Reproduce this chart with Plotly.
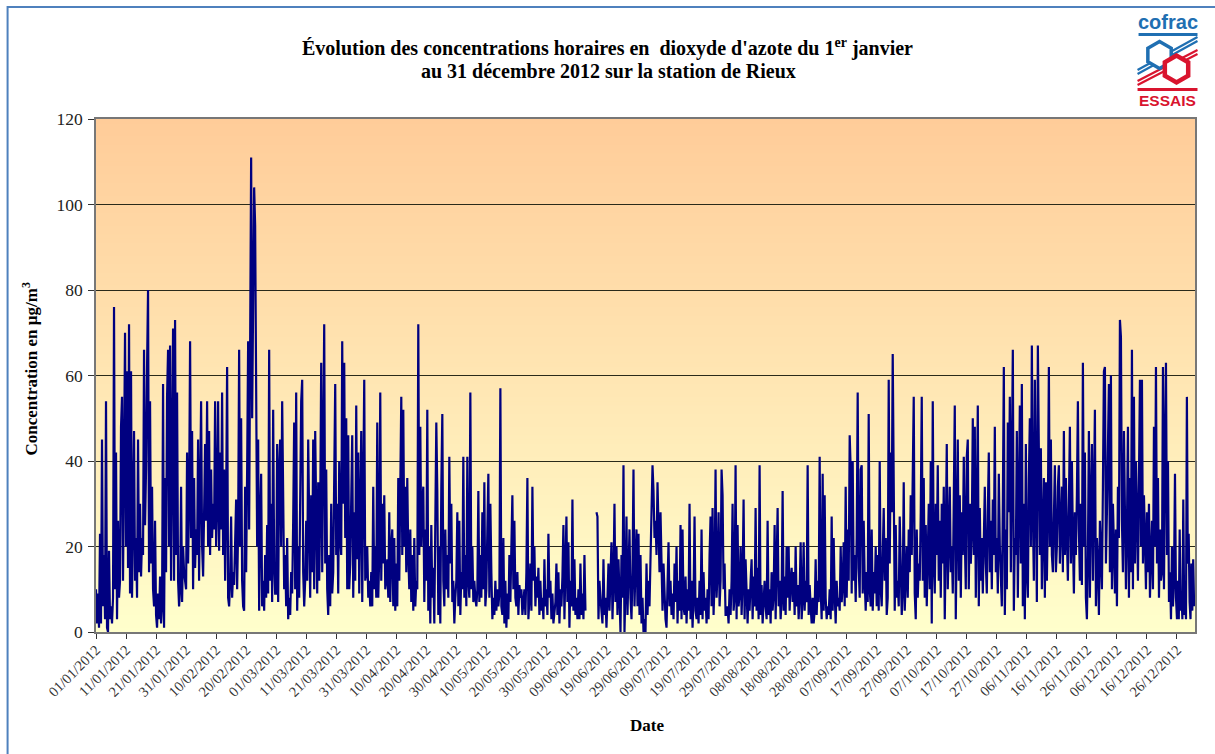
"""Hourly NO2 concentrations at the Rieux station, 2012."""

import math

import pandas as pd
import plotly.graph_objects as go

# Tick dates, every 10 days from 1 January 2012
TICK_DATES = [
    "2012-01-01", "2012-01-11", "2012-01-21", "2012-01-31", "2012-02-10", "2012-02-20",
    "2012-03-01", "2012-03-11", "2012-03-21", "2012-03-31", "2012-04-10", "2012-04-20",
    "2012-04-30", "2012-05-10", "2012-05-20", "2012-05-30", "2012-06-09", "2012-06-19",
    "2012-06-29", "2012-07-09", "2012-07-19", "2012-07-29", "2012-08-08", "2012-08-18",
    "2012-08-28", "2012-09-07", "2012-09-17", "2012-09-27", "2012-10-07", "2012-10-17",
    "2012-10-27", "2012-11-06", "2012-11-16", "2012-11-26", "2012-12-06", "2012-12-16",
    "2012-12-26",
]
AXIS_END = "2013-01-01"
Y_TICKS = [0, 20, 40, 60, 80, 100, 120]

# Values, one list per tick interval
d01 = [10, 2, 9, 1, 23, 2, 45, 6, 18, 3, 54, 1, 0, 19, 3, 6, 2, 8, 76, 10, 42, 3, 26, 8, 12, 48, 55, 12, 40, 70]
d02 = [20, 61, 15, 72, 9, 61, 8, 30, 47, 12, 22, 8, 45, 14, 30, 13, 22, 18, 66, 25, 38, 62, 80, 14, 54, 16, 34, 10, 6, 26]
d03 = [4, 1, 9, 3, 13, 2, 6, 58, 1, 36, 14, 55, 66, 20, 67, 12, 40, 71, 12, 73, 18, 56, 12, 6, 10, 34, 7, 20, 14, 11]
d04 = [10, 42, 16, 30, 68, 22, 47, 10, 36, 15, 24, 18, 45, 12, 30, 54, 20, 13, 28, 44, 26, 54, 20, 47, 18, 38, 22, 30, 24, 54]
d05 = [20, 30, 54, 19, 42, 24, 56, 18, 38, 12, 30, 62, 8, 6, 12, 27, 8, 14, 11, 22, 31, 10, 24, 66, 20, 50, 12, 6, 5, 34]
d06 = [14, 38, 68, 24, 60, 111, 50, 77, 104, 95, 50, 20, 45, 5, 26, 37, 6, 12, 5, 18, 8, 25, 9, 66, 12, 30, 7, 52, 16, 9]
d07 = [9, 44, 7, 38, 45, 20, 54, 26, 10, 18, 6, 22, 3, 8, 4, 14, 9, 26, 49, 10, 56, 5, 20, 8, 40, 54, 59, 14, 6, 12]
d08 = [26, 12, 45, 18, 8, 32, 14, 45, 10, 47, 20, 9, 35, 12, 28, 63, 14, 42, 72, 16, 38, 10, 4, 18, 6, 30, 9, 14, 47, 58]
d09 = [18, 30, 9, 40, 22, 18, 68, 30, 63, 22, 50, 10, 46, 10, 16, 30, 46, 8, 28, 12, 53, 17, 42, 9, 25, 47, 7, 32, 59, 12]
d10 = [14, 20, 8, 12, 6, 14, 6, 34, 10, 20, 8, 49, 8, 18, 56, 12, 30, 16, 32, 10, 12, 17, 8, 28, 7, 20, 24, 6, 22, 5]
d11 = [16, 6, 36, 12, 30, 55, 18, 52, 20, 34, 14, 36, 18, 10, 24, 7, 18, 5, 22, 6, 12, 10, 72, 18, 48, 20, 30, 34, 7, 24]
d12 = [12, 52, 5, 20, 2, 25, 8, 15, 2, 30, 49, 33, 4, 20, 2, 34, 51, 12, 6, 24, 10, 18, 8, 41, 16, 30, 7, 12, 2, 8]
d13 = [12, 28, 6, 26, 4, 14, 10, 41, 8, 18, 6, 41, 12, 8, 56, 10, 20, 7, 12, 8, 6, 10, 33, 7, 18, 8, 28, 10, 35, 6]
d14 = [10, 24, 37, 8, 30, 14, 3, 8, 4, 12, 5, 10, 6, 9, 57, 6, 4, 22, 2, 12, 1, 9, 3, 18, 7, 20, 32, 10, 26, 8]
d15 = [6, 14, 4, 11, 8, 10, 4, 7, 10, 4, 14, 36, 3, 8, 16, 5, 34, 12, 20, 6, 13, 8, 15, 4, 12, 5, 8, 3, 17, 6]
d16 = [10, 4, 23, 8, 12, 3, 9, 2, 5, 7, 16, 4, 14, 2, 10, 6, 13, 25, 3, 18, 27, 7, 21, 1, 12, 6, 31, 5, 17, 4]
d17 = [8, 3, 10, 3, 16, 4, 9, 3, 18, 5, None, None, None, None, None, None, None, None, None, None, 28, 27, 3, 12, 8, 5, 2, 17, 4, 8]
d18 = [1, 8, 16, 5, 11, 21, 3, 12, 30, 7, 20, 4, 17, 6, 0, 18, 8, 39, 0, 10, 27, 4, 16, 24, 8, 3, 14, 38, 6, 20]
d19 = [24, 6, 23, 4, 18, 2, 8, 0, 3, 0, 16, 4, 12, 6, 20, 27, 39, 33, 22, 26, 18, 35, 25, 14, 28, 10, 5, 16, 8, 3]
d20 = [1, 10, 21, 6, 12, 4, 9, 3, 16, 7, 20, 2, 12, 5, 25, 3, 24, 6, 4, 13, 2, 10, 5, 30, 3, 12, 1, 8, 27, 5]
d21 = [3, 8, 2, 12, 4, 24, 3, 14, 5, 8, 2, 10, 3, 18, 27, 6, 29, 4, 12, 38, 8, 14, 28, 6, 12, 38, 32, 10, 16, 4]
d22 = [4, 6, 2, 10, 4, 12, 30, 5, 8, 39, 3, 25, 6, 9, 20, 4, 12, 31, 3, 17, 6, 2, 10, 5, 12, 17, 3, 13, 6, 29]
d23 = [5, 15, 3, 39, 4, 11, 2, 8, 12, 6, 3, 26, 4, 10, 2, 14, 5, 9, 25, 3, 18, 29, 6, 12, 3, 8, 33, 5, 13, 4]
d24 = [20, 8, 20, 5, 12, 15, 7, 14, 4, 20, 6, 11, 3, 9, 21, 3, 8, 21, 5, 12, 7, 39, 4, 11, 6, 2, 8, 2, 5, 17]
d25 = [4, 12, 7, 41, 10, 3, 37, 5, 32, 8, 3, 6, 4, 10, 3, 27, 5, 22, 9, 2, 12, 6, 8, 5, 20, 7, 11, 21, 6, 34]
d26 = [8, 24, 12, 46, 38, 9, 40, 12, 18, 7, 22, 56, 15, 8, 38, 39, 9, 26, 12, 5, 14, 7, 51, 10, 6, 24, 5, 14, 9, 20]
d27 = [6, 18, 5, 40, 10, 6, 18, 29, 12, 22, 4, 8, 59, 16, 42, 28, 65, 30, 5, 25, 8, 12, 6, 27, 14, 4, 10, 35, 5, 12]
d28 = [20, 8, 24, 14, 32, 18, 40, 55, 9, 3, 24, 8, 16, 12, 28, 55, 12, 36, 8, 25, 6, 18, 30, 10, 40, 2, 54, 16, 9, 30]
d29 = [18, 39, 12, 26, 8, 30, 16, 34, 3, 22, 44, 10, 28, 34, 14, 20, 9, 39, 53, 3, 24, 45, 12, 32, 8, 28, 18, 41, 22, 10]
d30 = [41, 45, 10, 30, 16, 24, 50, 18, 48, 8, 26, 53, 6, 29, 12, 22, 9, 24, 34, 16, 9, 28, 42, 14, 26, 10, 31, 18, 48, 14]
d31 = [22, 9, 37, 20, 14, 6, 30, 62, 4, 24, 10, 49, 28, 55, 14, 36, 66, 5, 22, 18, 47, 8, 30, 53, 16, 58, 6, 30, 3, 44]
d32 = [14, 8, 36, 50, 20, 67, 28, 12, 59, 22, 7, 67, 32, 18, 43, 10, 24, 36, 8, 35, 12, 28, 62, 20, 45, 18, 14, 30, 39, 14]
d33 = [20, 34, 39, 16, 28, 34, 14, 47, 18, 36, 22, 12, 30, 48, 16, 40, 22, 9, 28, 18, 32, 54, 24, 12, 30, 11, 63, 20, 42, 8]
d34 = [3, 18, 47, 8, 30, 44, 12, 28, 52, 6, 22, 16, 4, 26, 18, 10, 34, 61, 62, 16, 28, 42, 58, 14, 60, 10, 30, 20, 9, 24]
d35 = [6, 34, 22, 73, 69, 26, 14, 47, 30, 10, 24, 48, 8, 36, 14, 66, 10, 55, 16, 40, 28, 12, 36, 59, 20, 59, 16, 32, 22, 10]
d36 = [28, 14, 30, 8, 18, 26, 10, 48, 20, 62, 16, 36, 8, 24, 12, 14, 62, 10, 42, 63, 18, 40, 7, 14, 3, 20, 6, 12, 37, 8]
d37 = [3, 12, 3, 24, 5, 9, 3, 31, 4, 8, 3, 55, 16, 23, 7, 3, 16, 5, 17, 6]

INTERVALS = [
    d01, d02, d03, d04, d05, d06, d07, d08, d09, d10, d11, d12, d13, d14, d15, d16, d17, d18, d19,
    d20, d21, d22, d23, d24, d25, d26, d27, d28, d29, d30, d31, d32, d33, d34, d35, d36, d37,
]

SERIF = "Liberation Serif"
SANS = "Liberation Sans"
LOGO_BLUE = "#1f6fb2"
LOGO_RED = "#d9142e"

# Pixel geometry of the plot area
LEFT, TOP, RIGHT, BOTTOM = 95.5, 119, 1195.5, 632


def px(x):
    return (x - LEFT) / (RIGHT - LEFT)


def py(y):
    return (BOTTOM - y) / (BOTTOM - TOP)


def hexagon(cx, cy, r):
    pts = []
    for k in range(6):
        a = math.radians(90 + 60 * k)
        pts.append(f"{px(cx + r * math.cos(a)):.5f},{py(cy - r * math.sin(a)):.5f}")
    return "M" + "L".join(pts) + "Z"


def label(x, y, text, font, size, color="#000000", angle=0):
    return dict(
        x=px(x), y=py(y), xref="paper", yref="paper", xanchor="center", yanchor="middle",
        showarrow=False, text=text, textangle=angle,
        font=dict(family=font, size=size, color=color),
    )


# Spread each list of readings evenly over its tick interval
edges = pd.to_datetime(TICK_DATES + [AXIS_END])
dates, values = [], []
for i, block in enumerate(INTERVALS):
    span = (edges[i + 1] - edges[i]) / len(block)
    dates += [edges[i] + span * k for k in range(len(block))]
    values += block

fig = go.Figure()

fig.add_trace(go.Scatter(
    x=dates,
    y=values,
    mode="lines",
    line=dict(color="#000080", width=2.2),
    name="NO2",
    showlegend=False,
))

# Orange to pale yellow background, under the grid
shapes = []
for level in range(120):
    t = (level + 0.5) / 120
    color = f"rgb(255,{255 - 51 * t:.0f},{204 - 51 * t:.0f})"
    shapes.append(dict(
        type="rect", xref="paper", yref="y", x0=0, x1=1, y0=level, y1=120,
        fillcolor=color, line=dict(width=0), layer="below",
    ))

# Blue outer frame
shapes.append(dict(
    type="path", xref="paper", yref="paper",
    path=f"M{px(7)},{py(800)}L{px(7)},{py(7)}L{px(1300)},{py(7)}",
    line=dict(color="#4f81bd", width=2),
))

# Cofrac logo
shapes.append(dict(type="rect", xref="paper", yref="paper", x0=px(1139), x1=px(1198), y0=py(36), y1=py(33),
                   fillcolor=LOGO_BLUE, line=dict(width=0)))
for y_left, y_right in [(70, 37), (74, 41)]:
    shapes.append(dict(type="line", xref="paper", yref="paper", x0=px(1138), x1=px(1198),
                       y0=py(y_left), y1=py(y_right), line=dict(color=LOGO_BLUE, width=2.2)))
for y_left, y_right in [(81, 50), (85, 54)]:
    shapes.append(dict(type="line", xref="paper", yref="paper", x0=px(1138), x1=px(1198),
                       y0=py(y_left), y1=py(y_right), line=dict(color=LOGO_RED, width=2.2)))
shapes.append(dict(type="path", xref="paper", yref="paper", path=hexagon(1160, 55, 13.5),
                   fillcolor="white", line=dict(color=LOGO_BLUE, width=3.5)))
shapes.append(dict(type="path", xref="paper", yref="paper", path=hexagon(1177, 69, 13.5),
                   fillcolor="white", line=dict(color=LOGO_RED, width=4.5)))
shapes.append(dict(type="rect", xref="paper", yref="paper", x0=px(1138), x1=px(1198), y0=py(91), y1=py(88),
                   fillcolor=LOGO_RED, line=dict(width=0)))

annotations = [
    label(607, 47, "<b>Évolution des concentrations horaires en  dioxyde d'azote du 1<sup>er</sup> janvier</b>", SERIF, 20),
    label(608, 71, "<b>au 31 décembre 2012 sur la station de Rieux</b>", SERIF, 20),
    label(29, 369, "<b>Concentration en µg/m<sup>3</sup></b>", SERIF, 17, angle=-90),
    label(647, 725, "<b>Date</b>", SERIF, 17),
    label(1168, 22, "<b>cofrac</b>", SANS, 20, LOGO_BLUE),
    label(1168, 100, "<b>ESSAIS</b>", SANS, 15.5, LOGO_RED),
]

fig.update_layout(
    width=1215,
    height=754,
    autosize=False,
    margin=dict(l=LEFT, r=1215 - RIGHT, t=TOP, b=754 - BOTTOM, pad=0),
    paper_bgcolor="white",
    plot_bgcolor="#ffffcc",
    showlegend=False,
    shapes=shapes,
    annotations=annotations,
    xaxis=dict(
        type="date",
        range=[TICK_DATES[0], AXIS_END],
        tickmode="array",
        tickvals=TICK_DATES,
        ticktext=[pd.Timestamp(d).strftime("%d/%m/%Y") for d in TICK_DATES],
        tickangle=-45,
        ticks="outside",
        ticklen=5,
        tickcolor="#333333",
        showgrid=False,
        showline=True,
        linecolor="#777777",
        linewidth=1.5,
        mirror=True,
        ticklabelstandoff=-3,
        tickfont=dict(family=SERIF, size=14.5, color="#333333"),
    ),
    yaxis=dict(
        range=[0, 120],
        tickmode="array",
        tickvals=Y_TICKS,
        ticks="outside",
        ticklen=6,
        tickcolor="#333333",
        ticklabelstandoff=2,
        showgrid=True,
        gridcolor="#2a2a1a",
        gridwidth=1,
        zeroline=False,
        showline=True,
        linecolor="#777777",
        linewidth=1.5,
        mirror=True,
        tickfont=dict(family=SERIF, size=17.5, color="#222222"),
    ),
)

fig.write_html(
    "out.html",
    config={"displayModeBar": False},
    post_script="document.body.style.margin='0';",
)
